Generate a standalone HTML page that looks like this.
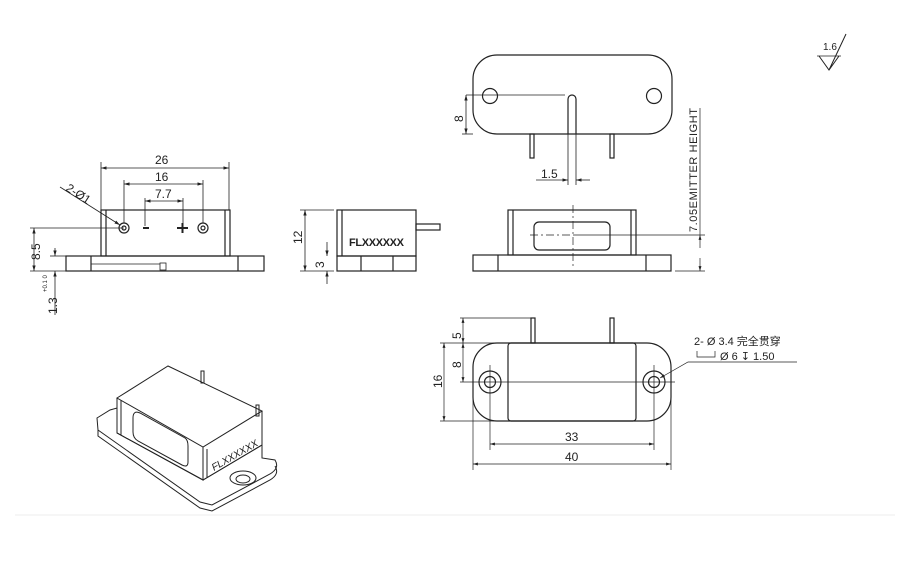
<!DOCTYPE html>
<html><head><meta charset="utf-8"><style>
body{margin:0;background:#fff}
svg{display:block}
text{font-family:"Liberation Sans","Noto Sans CJK SC",sans-serif;fill:#222}
</style></head><body>
<svg width="919" height="566" viewBox="0 0 919 566" xmlns="http://www.w3.org/2000/svg">
<defs>
<marker id="a" viewBox="0 0 10 10" refX="10" refY="5" markerWidth="7" markerHeight="7" orient="auto-start-reverse"><path d="M0,2L10,5L0,8z" fill="#222"/></marker>
</defs>
<g stroke="#222" stroke-width="1.2" fill="none">
<!-- left front view -->
<rect x="101" y="210" width="129" height="46"/>
<line x1="106" y1="210" x2="106" y2="256"/><line x1="225" y1="210" x2="225" y2="256"/>
<rect x="66" y="256" width="198" height="15"/>
<line x1="91" y1="256" x2="91" y2="271"/><line x1="238" y1="256" x2="238" y2="271"/>
<line x1="91" y1="264" x2="160" y2="264" stroke-width="0.7"/>
<rect x="160" y="263" width="6" height="7" stroke-width="0.8"/>
<circle cx="124" cy="228" r="5"/><circle cx="124" cy="228" r="2"/>
<circle cx="203" cy="228" r="5"/><circle cx="203" cy="228" r="2"/>
<line x1="143" y1="228" x2="149" y2="228" stroke-width="2"/>
<path d="M177 228H188M182.5 223V233" stroke-width="2"/>
<g stroke-width="0.8">
<line x1="101" y1="210" x2="101" y2="162"/><line x1="229" y1="210" x2="229" y2="162"/>
<line x1="101" y1="168" x2="229" y2="168" marker-start="url(#a)" marker-end="url(#a)"/>
<line x1="124" y1="223" x2="124" y2="180"/><line x1="203" y1="223" x2="203" y2="180"/>
<line x1="124" y1="184" x2="203" y2="184" marker-start="url(#a)" marker-end="url(#a)"/>
<line x1="145" y1="226" x2="145" y2="198"/><line x1="183" y1="223" x2="183" y2="198"/>
<line x1="145" y1="201" x2="183" y2="201" marker-start="url(#a)" marker-end="url(#a)"/>
<line x1="60" y1="187" x2="120" y2="225" marker-end="url(#a)"/>
<line x1="30" y1="228" x2="124" y2="228"/>
<line x1="34" y1="228" x2="34" y2="271" marker-start="url(#a)" marker-end="url(#a)"/>
<line x1="30" y1="271" x2="66" y2="271"/><line x1="50" y1="256" x2="66" y2="256"/>
<line x1="55" y1="248" x2="55" y2="256" marker-end="url(#a)"/>
<line x1="55" y1="284" x2="55" y2="271" marker-end="url(#a)"/>
<line x1="55" y1="284" x2="55" y2="315"/>
</g>
<!-- side view -->
<rect x="337" y="210" width="79" height="46"/>
<line x1="342" y1="210" x2="342" y2="256"/>
<rect x="337" y="256" width="79" height="15"/>
<line x1="361" y1="256" x2="361" y2="271"/><line x1="393" y1="256" x2="393" y2="271"/>
<rect x="416" y="224" width="24" height="6"/>
<g stroke-width="0.8">
<line x1="300" y1="210" x2="334" y2="210"/><line x1="300" y1="271" x2="334" y2="271"/>
<line x1="305" y1="210" x2="305" y2="271" marker-start="url(#a)" marker-end="url(#a)"/>
<line x1="327" y1="242" x2="327" y2="256" marker-end="url(#a)"/>
<line x1="327" y1="284" x2="327" y2="271" marker-end="url(#a)"/>
</g>
<!-- top view -->
<rect x="473" y="55" width="199" height="79" rx="24"/>
<circle cx="490" cy="96" r="7.5"/><circle cx="654" cy="96" r="7.5"/>
<path d="M568 134V99a4 4 0 0 1 8 0V134"/>
<rect x="530" y="134" width="4" height="24"/><rect x="610" y="134" width="4" height="24"/>
<g stroke-width="0.8">
<line x1="466" y1="95" x2="565" y2="95"/><line x1="462" y1="134" x2="473" y2="134"/>
<line x1="466" y1="95" x2="466" y2="134" marker-start="url(#a)" marker-end="url(#a)"/>
<line x1="568" y1="134" x2="568" y2="185"/><line x1="576" y1="134" x2="576" y2="185"/>
<line x1="536" y1="180" x2="568" y2="180" marker-end="url(#a)"/>
<line x1="590" y1="180" x2="576" y2="180" marker-end="url(#a)"/>
</g>
<!-- front view right -->
<rect x="508" y="210" width="128" height="45"/>
<line x1="513" y1="210" x2="513" y2="255"/><line x1="631" y1="210" x2="631" y2="255"/>
<rect x="534" y="222" width="76" height="28" rx="5"/>
<rect x="473" y="255" width="198" height="16"/>
<line x1="498" y1="255" x2="498" y2="271"/><line x1="646" y1="255" x2="646" y2="271"/>
<g stroke-width="0.7">
<line x1="573" y1="205" x2="573" y2="268" stroke-dasharray="8 3 2 3"/>
<line x1="530" y1="235" x2="573" y2="235" stroke-dasharray="8 3 2 3"/>
<line x1="573" y1="235" x2="705" y2="235"/>
<line x1="675" y1="271" x2="705" y2="271"/>
<line x1="700" y1="108" x2="700" y2="235"/>
<line x1="700" y1="248" x2="700" y2="235" marker-end="url(#a)"/>
<line x1="700" y1="258" x2="700" y2="271" marker-end="url(#a)"/>
</g>
<!-- bottom view -->
<rect x="473" y="343" width="198" height="78" rx="24"/>
<rect x="508" y="343" width="128" height="78" rx="3"/>
<circle cx="490" cy="382" r="11"/><circle cx="490" cy="382" r="5.5"/>
<circle cx="654" cy="382" r="11"/><circle cx="654" cy="382" r="5.5"/>
<rect x="531" y="318" width="4" height="25"/><rect x="610" y="318" width="4" height="25"/>
<g stroke-width="0.7">
<line x1="460" y1="382" x2="675" y2="382"/>
<line x1="490" y1="365" x2="490" y2="450"/><line x1="654" y1="365" x2="654" y2="450"/>
<line x1="473" y1="390" x2="473" y2="470"/><line x1="671" y1="390" x2="671" y2="470"/>
<line x1="460" y1="318" x2="531" y2="318"/>
<line x1="440" y1="343" x2="508" y2="343"/><line x1="440" y1="421" x2="500" y2="421"/>
<line x1="463" y1="318" x2="463" y2="343" marker-start="url(#a)" marker-end="url(#a)"/>
<line x1="463" y1="343" x2="463" y2="382" marker-start="url(#a)" marker-end="url(#a)"/>
<line x1="444" y1="343" x2="444" y2="421" marker-start="url(#a)" marker-end="url(#a)"/>
<line x1="490" y1="444" x2="654" y2="444" marker-start="url(#a)" marker-end="url(#a)"/>
<line x1="473" y1="464" x2="671" y2="464" marker-start="url(#a)" marker-end="url(#a)"/>
<polyline points="797,362 688,362 660,378" marker-end="url(#a)"/>
<path d="M697 351v6h18v-6"/>
</g>
<!-- iso -->
<g stroke-width="1">
<path d="M97 418 L110 410 L117 408 L117 433 L203 480 L262 445 L262 458 L275 460 Q280 468 270 474 L212 505 L200 502 L98 430 Z"/>
<path d="M98 430 L98 436 L200 508 L212 511 L270 480 Q280 474 275 466"/>
<path d="M117 398 L168 366 L262 411 L203 447 Z"/>
<path d="M117 398 L117 433 L203 480 L203 447"/>
<path d="M203 480 L262 445 L262 411"/>
<path d="M121 400 L121 435"/><path d="M207 449 L207 478"/>
<path d="M133 418 Q133 410 140 413 L185 438 Q188 440 188 446 L188 462 Q188 468 182 465 L138 441 Q133 438 133 432 Z"/>
<ellipse cx="243" cy="478" rx="13" ry="7"/><ellipse cx="243" cy="479" rx="7" ry="4"/>
<rect x="201" y="371" width="3" height="12"/><rect x="256" y="405" width="3" height="11"/>
</g>
<!-- roughness -->
<path d="M819 56 L829 70 L839 56 M829 70 L846 34" stroke-width="1"/>
<line x1="817" y1="56" x2="841" y2="56" stroke-width="0.8"/>
<line x1="15" y1="515" x2="895" y2="515" stroke="#eee" stroke-width="1"/>
</g>
<g font-size="12">
<text x="155" y="164">26</text>
<text x="155" y="181">16</text>
<text x="155" y="198">7.7</text>
<text x="0" y="0" transform="translate(65,190) rotate(33)">2-Ø1</text>
<text transform="translate(40,260) rotate(-90)">8.5</text>
<text transform="translate(57,314) rotate(-90)">1.3</text>
<text transform="translate(47,292) rotate(-90)" font-size="6">+0.1 0</text>
<text transform="translate(302,244) rotate(-90)">12</text>
<text transform="translate(324,268) rotate(-90)">3</text>
<text x="349" y="246" font-size="11" font-weight="bold" textLength="55">FLXXXXXX</text>
<text transform="translate(463,122) rotate(-90)">8</text>
<text x="541" y="178">1.5</text>
<text transform="translate(697,232) rotate(-90)" font-size="11" textLength="124">7.05EMITTER HEIGHT</text>
<text transform="translate(461,339) rotate(-90)">5</text>
<text transform="translate(461,368) rotate(-90)">8</text>
<text transform="translate(442,388) rotate(-90)">16</text>
<text x="565" y="441">33</text>
<text x="565" y="461">40</text>
<text x="694" y="345" font-size="11">2- Ø 3.4 完全贯穿</text>
<text x="720" y="360" font-size="11">Ø 6 ↧ 1.50</text>
<text transform="translate(214,471) rotate(-30)" font-size="10" font-style="italic">FLXXXXXX</text>
<text x="823" y="50" font-size="10" font-family="Liberation Serif">1.6</text>
</g>
</svg>
</body></html>
